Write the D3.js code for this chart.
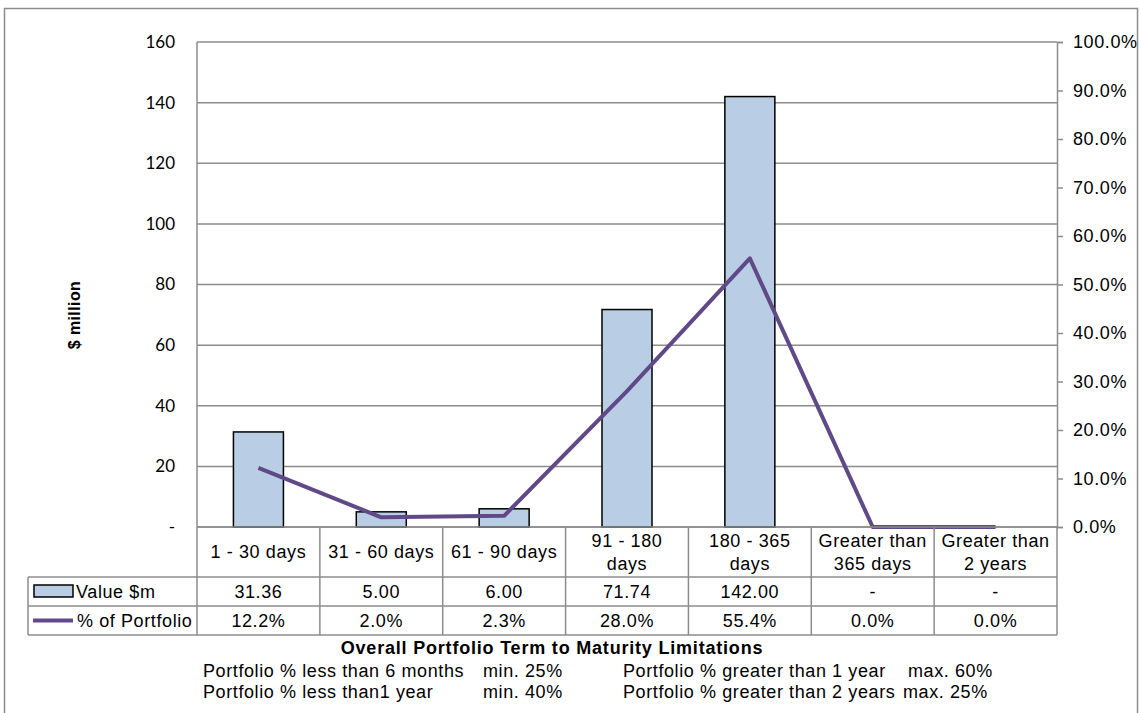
<!DOCTYPE html>
<html><head><meta charset="utf-8">
<script src="https://cdn.jsdelivr.net/npm/d3@7/dist/d3.min.js"></script>
<style>body{margin:0;background:#fff}svg{display:block}</style>
</head><body><svg id="c" width="1141" height="713"></svg>
<script>
const categories = [["1 - 30 days"],["31 - 60 days"],["61 - 90 days"],["91 - 180","days"],["180 - 365","days"],["Greater than","365 days"],["Greater than","2 years"]];
const values = [31.36, 5.00, 6.00, 71.74, 142.00, 0, 0];
const valueLabels = ["31.36","5.00","6.00","71.74","142.00","-","-"];
const pcts = [0.122, 0.020, 0.023, 0.280, 0.554, 0.0, 0.0];
const pctLabels = ["12.2%","2.0%","2.3%","28.0%","55.4%","0.0%","0.0%"];
const leftTicks = [0,20,40,60,80,100,120,140,160];
const rightTicks = [0,0.1,0.2,0.3,0.4,0.5,0.6,0.7,0.8,0.9,1.0];
const seriesNames = ["Value $m","% of Portfolio"];
const footTitle = "Overall Portfolio Term to Maturity Limitations";
const footRows = [["Portfolio % less than 6 months","min. 25%","Portfolio % greater than 1 year","max. 60%"],
                  ["Portfolio % less than1 year","min. 40%","Portfolio % greater than 2 years","max. 25%"]];

const svg = d3.select("#c");
const L=197, R=1057, T=42, B=527;
const gridC="#8c8c8c", barFill="#b9cde5", lineC="#5f4a87";
const arial="Arial, 'Liberation Sans', sans-serif";
const FS=18, LS=0.6;

svg.append("rect").attr("x",4.5).attr("y",8.5).attr("width",1133).attr("height",720)
  .attr("fill","none").attr("stroke","#8c8c8c").attr("stroke-width",1.5);

const x = d3.scaleBand().domain(d3.range(categories.length)).range([L,R]).padding(0);
const y = d3.scaleLinear().domain([0,160]).range([B,T]);
const y2 = d3.scaleLinear().domain([0,1]).range([B,T]);

svg.append("g").selectAll("line").data(leftTicks).join("line")
  .attr("x1",L).attr("x2",R).attr("y1",d=>y(d)).attr("y2",d=>y(d))
  .attr("stroke",gridC).attr("stroke-width",1.5);
svg.append("line").attr("x1",L).attr("x2",L).attr("y1",T).attr("y2",B).attr("stroke",gridC).attr("stroke-width",1.5);

const ly = d3.axisLeft(y).tickValues(leftTicks).tickSize(0).tickPadding(22).tickFormat(d=>d===0?"-":d);
const gl = svg.append("g").attr("transform",`translate(${L},0)`).call(ly);
gl.select(".domain").remove();
gl.selectAll("text").attr("font-family","Lato, Carlito, sans-serif").attr("font-size",17).attr("fill","#000");

const ry = d3.axisRight(y2).tickValues(rightTicks).tickSize(6).tickPadding(10).tickFormat(d3.format(".1%"));
const gr = svg.append("g").attr("transform",`translate(${R},0)`).call(ry);
gr.select(".domain").attr("stroke",gridC).attr("stroke-width",1.5);
gr.selectAll("line").attr("stroke",gridC).attr("stroke-width",1.5);
gr.selectAll("text").attr("font-family",arial).attr("font-size",FS).attr("letter-spacing",LS).attr("fill","#000");

svg.append("text").attr("transform","translate(80,315) rotate(-90)").attr("text-anchor","middle")
  .attr("font-family",arial).attr("font-weight","bold").attr("font-size",16).attr("letter-spacing",0.4).text("$ million");

const bw = 50;
svg.append("g").selectAll("rect").data(values.map((v,i)=>({v,i})).filter(d=>d.v>0)).join("rect")
  .attr("x",d=>x(d.i)+x.bandwidth()/2-bw/2).attr("y",d=>y(d.v))
  .attr("width",bw).attr("height",d=>B-y(d.v))
  .attr("fill",barFill).attr("stroke","#000").attr("stroke-width",1.5);

const line = d3.line().x((d,i)=>x(i)+x.bandwidth()/2).y(d=>y2(d));
svg.append("path").datum(pcts).attr("d",line).attr("fill","none")
  .attr("stroke",lineC).attr("stroke-width",4).attr("stroke-linejoin","round");

const rowH=[527,577,606,635];
const tL=28;
const tg = svg.append("g").attr("stroke",gridC).attr("stroke-width",1.5);
tg.append("line").attr("x1",L).attr("x2",R).attr("y1",rowH[0]).attr("y2",rowH[0]);
[1,2,3].forEach(k=>tg.append("line").attr("x1",tL).attr("x2",R).attr("y1",rowH[k]).attr("y2",rowH[k]));
tg.append("line").attr("x1",tL).attr("x2",tL).attr("y1",rowH[1]).attr("y2",rowH[3]);
d3.range(categories.length+1).forEach(i=>{
  const xx = i<categories.length? x(i): R;
  tg.append("line").attr("x1",xx).attr("x2",xx).attr("y1",rowH[0]).attr("y2",rowH[3]);
});
const tt = svg.append("g").attr("font-family",arial).attr("font-size",FS).attr("letter-spacing",LS).attr("text-anchor","middle").attr("fill","#000");
categories.forEach((c,i)=>{
  const cx = x(i)+x.bandwidth()/2;
  const mid=(rowH[0]+rowH[1])/2;
  c.forEach((s,j)=>{
    tt.append("text").attr("x",cx).attr("y",mid+(j-(c.length-1)/2)*23+6).text(s);
  });
  tt.append("text").attr("x",cx).attr("y",(rowH[1]+rowH[2])/2+6.5).text(valueLabels[i]);
  tt.append("text").attr("x",cx).attr("y",(rowH[2]+rowH[3])/2+6.5).text(pctLabels[i]);
});
svg.append("rect").attr("x",34).attr("y",585).attr("width",39).attr("height",12)
  .attr("fill",barFill).attr("stroke","#000").attr("stroke-width",1.5);
svg.append("line").attr("x1",33).attr("x2",73).attr("y1",620.5).attr("y2",620.5).attr("stroke",lineC).attr("stroke-width",4);
svg.append("text").attr("x",76).attr("y",598).attr("font-family",arial).attr("font-size",FS).attr("letter-spacing",LS).text(seriesNames[0]);
svg.append("text").attr("x",77).attr("y",627).attr("font-family",arial).attr("font-size",FS).attr("letter-spacing",LS).text(seriesNames[1]);

svg.append("text").attr("x",552).attr("y",654).attr("text-anchor","middle").attr("font-family",arial)
  .attr("font-weight","bold").attr("font-size",FS).attr("letter-spacing",0.8).text(footTitle);
const fx=[203,483,623,[908,903]];
footRows.forEach((r,k)=>{
  const yy = 677 + k*21;
  r.forEach((s,j)=>{
    const xx = Array.isArray(fx[j])? fx[j][k] : fx[j];
    svg.append("text").attr("x",xx).attr("y",yy).attr("font-family",arial).attr("font-size",FS).attr("letter-spacing",LS).text(s);
  });
});
</script></body></html>
